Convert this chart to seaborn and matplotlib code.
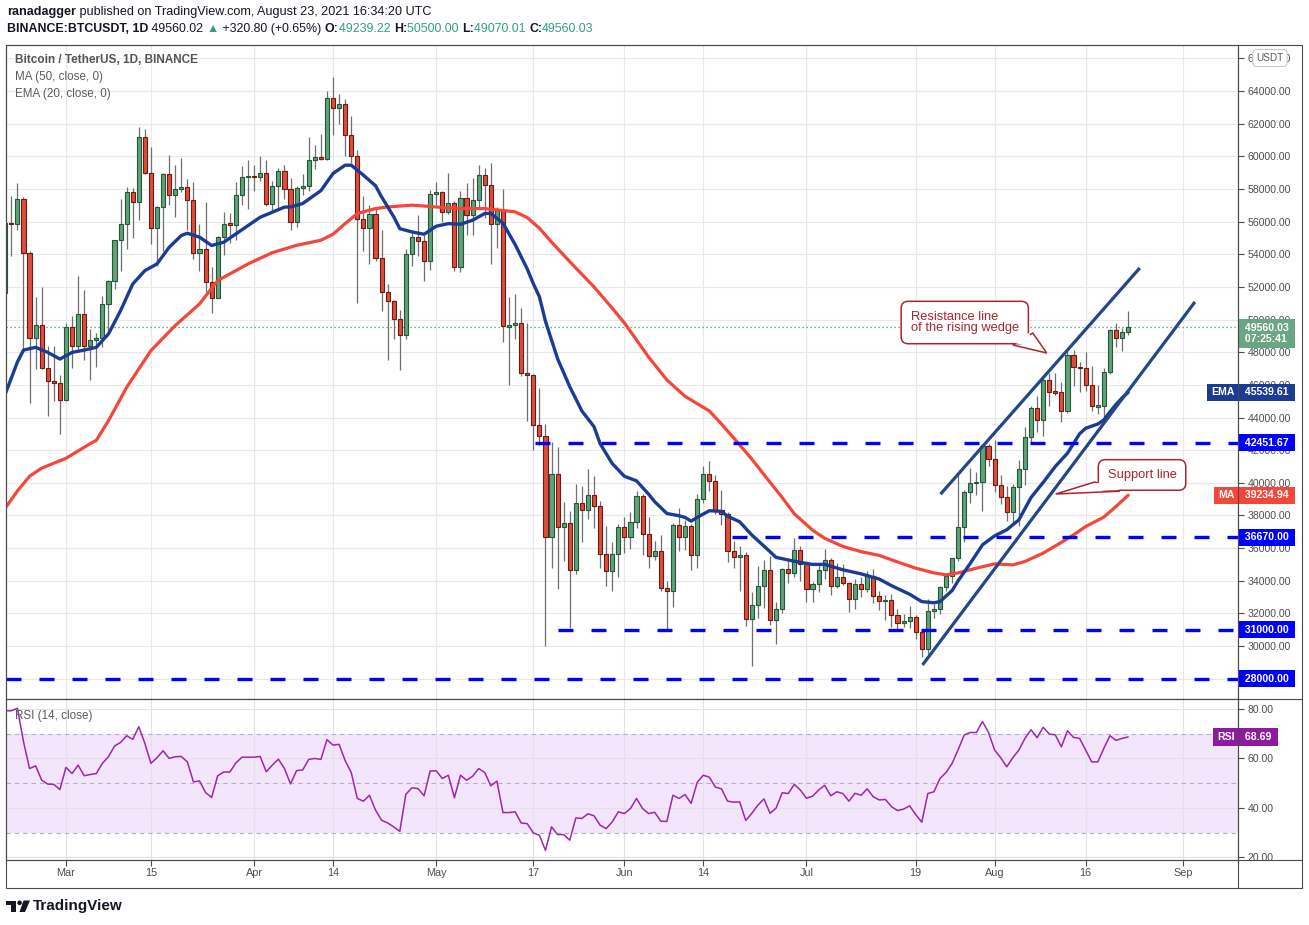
import numpy as np
import pandas as pd
import matplotlib
matplotlib.use("Agg")
import matplotlib.pyplot as plt
import matplotlib.dates as mdates
import matplotlib.transforms as mtransforms
from matplotlib.patches import Rectangle, Circle, Polygon
from matplotlib.lines import Line2D
import seaborn as sns

W, H = 1309, 925

# ---- daily BTCUSDT candles, Feb 19 .. Aug 23 2021 (open = previous close) ----
dates = pd.date_range("2021-02-19", "2021-08-23", freq="D")
first_open = 51600

close_feb = [55900, 55850, 57400, 54050, 48900, 49650, 47050, 46250, 46100, 45100]
high_feb = [56400, 57600, 58350, 57500, 54200, 51400, 52000, 48400, 48400, 46600]
low_feb = [50900, 53900, 55500, 48000, 44900, 47000, 47000, 44100, 45000, 43000]

close_mar = [49550, 48400, 50350, 48370, 48750, 48880, 50970, 52380, 54850, 55850,
             57800, 57220, 61180, 58970, 55600, 56900, 58900, 57640, 58030, 58100,
             57350, 54080, 54340, 52300, 51300, 55070, 55880, 55820, 57630, 58760, 58800]
high_mar = [49800, 50200, 52650, 51800, 49450, 49200, 51450, 52400, 54900, 57400,
            58150, 58050, 61800, 61700, 60600, 56950, 58950, 60100, 59450, 59900,
            58600, 58400, 55850, 57200, 53250, 55100, 56600, 56550, 58400, 59400, 59800]
low_mar = [45000, 47050, 48100, 47500, 46300, 47100, 48300, 49300, 51850, 53000,
           54300, 55000, 56100, 58900, 54600, 53300, 54200, 57000, 56300, 57800,
           55500, 53700, 53000, 51700, 50400, 51300, 53950, 54700, 54900, 57000, 56800]

close_apr = [58740, 58950, 57060, 58200, 59130, 57990, 56000, 58090, 58160, 59770,
             59990, 59860, 63580, 62960, 63180, 61330, 60000, 56150, 55640, 56470,
             53800, 51700, 51150, 50050, 49050, 54020, 55040, 54840, 53560, 57700]
high_apr = [59500, 60000, 59800, 58500, 59300, 59500, 58650, 58200, 58900, 61200,
            60700, 61400, 64000, 64850, 63800, 63500, 62500, 60400, 57600, 57000,
            56800, 55500, 52150, 51200, 50600, 54350, 55500, 56400, 55200, 57950]
low_apr = [57900, 58500, 56950, 56500, 56800, 57400, 55500, 55700, 57650, 57900,
           59200, 59800, 59800, 61300, 62000, 60000, 59600, 51000, 54200, 53400,
           53600, 50500, 47500, 48800, 46900, 48800, 53300, 53900, 52350, 53050]

close_may = [57800, 56580, 57170, 53200, 57440, 56400, 57340, 58840, 58240, 55830,
             56700, 49580, 49650, 49820, 46720, 46580, 43540, 42860, 36650, 40540,
             37280, 37520, 34660, 38780, 38320, 39240, 38560, 35660, 34600, 35650, 37280]
high_may = [58450, 57900, 59000, 57250, 57900, 58350, 58650, 59500, 59300, 59600,
            56900, 58000, 51400, 51550, 50700, 49800, 46650, 45800, 43600, 42500,
            42200, 38850, 38300, 39900, 39800, 40850, 40400, 38900, 37350, 36400, 37500]
low_may = [57000, 56000, 56450, 53000, 52900, 55200, 55200, 56900, 56250, 53400,
           54400, 48600, 46000, 48800, 46550, 43800, 42000, 42300, 30000, 34800,
           33500, 35200, 31100, 34400, 36400, 37800, 37200, 34800, 33650, 33400, 34200]

close_jun = [36690, 37570, 39210, 36850, 35520, 35800, 33560, 33400, 37390, 36690,
             37330, 35550, 39020, 40530, 40140, 38350, 38090, 35820, 35480, 35600,
             31680, 32500, 33680, 34660, 31590, 32280, 34700, 34500, 35910, 35040]
high_jun = [37900, 38200, 39480, 39300, 37900, 36450, 36800, 34000, 37550, 38450,
            37700, 37450, 39300, 41000, 41350, 40500, 39550, 38200, 36450, 36100,
            35750, 33300, 34900, 35300, 35500, 32700, 34750, 35300, 36600, 36100]
low_jun = [35700, 35950, 37200, 35600, 34800, 35250, 33400, 31000, 32400, 35800,
           35900, 34650, 34800, 38750, 39500, 38100, 37400, 35150, 34800, 33350,
           31250, 28800, 31700, 32350, 31300, 30150, 32000, 33850, 34200, 34000]

close_jul = [33510, 33800, 34660, 35300, 33690, 34220, 33860, 32880, 33810, 33510,
             34260, 33090, 32730, 32820, 31880, 31380, 31520, 31780, 30840, 29790,
             32140, 32290, 33640, 34260, 35380, 37270, 39460, 40010, 40030, 42230, 41460]
high_jul = [35050, 33950, 34950, 35950, 35400, 35100, 35000, 33900, 34100, 34250,
            34600, 34700, 33350, 33100, 33200, 32250, 31950, 32450, 31900, 31050,
            32850, 32600, 33650, 34500, 35400, 40550, 39550, 40900, 40650, 42300, 42400]
low_jul = [32700, 32700, 33300, 34100, 33150, 33550, 33750, 32100, 32250, 33000,
           33300, 32650, 32200, 31600, 31150, 31000, 31150, 31100, 30400, 29300,
           29500, 31700, 31950, 33400, 33850, 35200, 36400, 38750, 39250, 38300, 41000]

close_aug = [39850, 39150, 38210, 39720, 40870, 42830, 44610, 43830, 46290, 45590,
             45550, 44420, 47830, 47100, 47050, 45990, 44690, 44700, 46760, 49340,
             48870, 49240, 49560]
high_aug = [42600, 40450, 39800, 39950, 41400, 43400, 44700, 45300, 46450, 46700,
            46750, 46200, 48100, 48150, 47400, 48000, 47150, 46000, 47050, 49400,
            49800, 49500, 50500]
low_aug = [39450, 38700, 37650, 37500, 37350, 39850, 42500, 43100, 42850, 44700,
           45350, 43750, 44250, 45950, 45550, 45650, 44400, 44200, 43950, 46650,
           48300, 48100, 49070]

# ---- RSI(14) daily ----
rsi_feb = [79.3, 79.3, 80.3, 66.8, 55.9, 57.0, 51.2, 49.6, 49.5, 47.4]
rsi_mar = [56.4, 53.9, 57.3, 53.0, 53.5, 53.9, 58.0, 60.7, 65.0, 66.5,
           69.2, 67.7, 72.8, 66.1, 58.0, 60.3, 63.1, 60.0, 60.7, 60.8,
           58.6, 50.5, 50.9, 46.2, 44.2, 53.0, 54.5, 54.5, 58.2, 60.5, 60.5]
rsi_apr = [60.5, 60.8, 54.6, 57.3, 59.7, 55.9, 49.7, 55.1, 55.3, 59.6,
           60.0, 59.6, 67.6, 65.4, 65.7, 59.1, 54.3, 43.8, 42.7, 45.1,
           39.1, 35.0, 33.9, 32.3, 30.5, 45.5, 48.1, 47.8, 44.9, 54.9]
rsi_may = [55.0, 51.9, 53.2, 44.1, 53.2, 51.2, 52.8, 55.9, 54.3, 48.9,
           50.8, 38.1, 38.1, 38.4, 33.9, 33.6, 29.9, 28.9, 22.8, 32.3,
           29.2, 29.2, 26.9, 35.9, 35.7, 37.6, 36.8, 33.0, 31.6, 34.3, 38.4]
rsi_jun = [37.7, 39.7, 43.8, 39.7, 37.7, 38.2, 34.6, 34.5, 45.1, 43.8,
           45.4, 41.8, 50.3, 53.2, 52.4, 48.4, 47.7, 42.7, 42.3, 42.4,
           34.9, 37.8, 41.1, 43.6, 37.8, 39.9, 46.1, 45.8, 49.5, 47.2]
rsi_jul = [43.9, 44.7, 47.2, 49.1, 44.9, 46.5, 45.8, 42.7, 45.9, 45.1,
           47.7, 44.5, 43.2, 43.4, 40.5, 38.9, 39.5, 40.8, 37.3, 34.2,
           45.8, 46.5, 51.9, 54.3, 58.0, 63.6, 69.5, 70.5, 70.5, 74.9, 70.5]
rsi_aug = [63.4, 60.3, 56.6, 60.3, 63.4, 68.1, 71.6, 68.4, 72.6, 69.9,
           69.5, 64.7, 71.2, 68.5, 68.1, 63.4, 58.6, 58.6, 64.1, 69.2,
           67.3, 68.1, 68.69]

# ---- EMA(20) and MA(50) ----
ema_days = ["02-19", "02-21", "02-22", "02-24", "02-26", "02-28", "03-02", "03-04", "03-06",
            "03-08", "03-10", "03-12", "03-14", "03-16", "03-18", "03-20", "03-21", "03-23",
            "03-25", "03-27", "03-29", "03-31", "04-02", "04-04", "04-06", "04-07", "04-09",
            "04-12", "04-14", "04-16", "04-17", "04-19", "04-21", "04-22", "04-24", "04-25",
            "04-27", "04-29", "05-01", "05-03", "05-05", "05-07", "05-09", "05-10", "05-12",
            "05-14", "05-16", "05-17", "05-18", "05-19", "05-21", "05-23", "05-25", "05-27",
            "05-28", "05-30", "06-01", "06-03", "06-05", "06-06", "06-08", "06-10", "06-11",
            "06-12", "06-13", "06-15", "06-17", "06-18", "06-20", "06-22", "06-24", "06-26",
            "06-28", "06-30", "07-02", "07-04", "07-07", "07-10", "07-13", "07-15", "07-18",
            "07-20", "07-22", "07-23", "07-25", "07-26", "07-28", "07-30", "08-01", "08-03",
            "08-05", "08-07", "08-09", "08-11", "08-13", "08-15", "08-16", "08-18", "08-19",
            "08-20", "08-21", "08-22", "08-23"]
ema_vals = [45440, 47400, 48130, 48300, 47990, 47580, 47990, 48130, 48300,
            49120, 50550, 52180, 53000, 53410, 54430, 55150, 55290, 55050,
            54540, 54740, 55250, 55760, 56270, 56580, 56890, 56900, 57110,
            57900, 58950, 59460, 59460, 58850, 58200, 57520, 56300, 55570,
            55370, 55230, 55720, 55880, 55840, 56090, 56500, 56510, 55900,
            54600, 53100, 52200, 51400, 49900, 47600, 45890, 44400, 43440,
            42400, 41180, 40400, 40120, 39300, 38840, 38120, 37980, 37880,
            37650, 37880, 38290, 38250, 37950, 37610, 36800, 36120, 35430,
            35270, 35120, 35000, 35000, 34670, 34420, 34100, 33700, 33170,
            32720, 32650, 32720, 33400, 34000, 35070, 36200, 36750, 37120,
            37730, 39100, 40020, 41000, 41810, 43000, 43340, 43600, 43850,
            44350, 44800, 45200, 45540]

ma_days = ["02-19", "02-21", "02-23", "02-25", "02-27", "03-01", "03-03", "03-05", "03-06",
           "03-08", "03-11", "03-15", "03-19", "03-23", "03-26", "03-31", "04-04", "04-08",
           "04-12", "04-14", "04-16", "04-18", "04-21", "04-23", "04-27", "05-01", "05-05",
           "05-09", "05-14", "05-16", "05-18", "05-20", "05-23", "05-27", "05-30", "06-01",
           "06-05", "06-08", "06-11", "06-15", "06-17", "06-19", "06-22", "06-24", "06-27",
           "06-29", "07-02", "07-04", "07-07", "07-10", "07-13", "07-16", "07-19", "07-22",
           "07-24", "07-26", "07-29", "08-01", "08-04", "08-06", "08-09", "08-12", "08-14",
           "08-16", "08-19", "08-21", "08-23"]
ma_vals = [38450, 39500, 40400, 40900, 41200, 41500, 41950, 42400, 42600,
           43800, 45850, 48100, 49630, 50960, 52390, 53410, 54100, 54550,
           54860, 55230, 55880, 56500, 56800, 56900, 57010, 56900, 56800,
           56800, 56600, 56250, 55600, 54750, 53550, 52000, 50700, 49800,
           47700, 46300, 45300, 44400, 43600, 42750, 41450, 40500, 39100,
           38100, 37100, 36600, 36100, 35780, 35550, 35150, 34770, 34480,
           34360, 34480, 34770, 35030, 34970, 35180, 35690, 36350, 36810,
           37320, 37900, 38550, 39235]

# ---- drawings ----
level_prices = [42451.67, 36670.00, 31000.00, 28000.00]
level_starts = ["2021-05-17 06:00", "2021-06-18 16:00", "2021-05-21 00:00", "2021-02-15"]
wedge_low_dates = ["2021-07-20 03:00", "2021-09-03 00:00"]
wedge_low_prices = [28840, 51080]
wedge_up_dates = ["2021-07-23 02:00", "2021-08-24 22:00"]
wedge_up_prices = [39300, 53160]

res_text = "Resistance line\nof the rising wedge"
res_box = ("2021-07-27 02:00", 49820)
res_tail_dates = ["2021-08-04 00:00", "2021-08-09 14:00", "2021-08-07 07:00"]
res_tail_prices = [48443, 47952, 49177]
sup_text = "Support line"
sup_box = ("2021-08-25 07:00", 40480)
sup_tail_dates = ["2021-08-17 12:00", "2021-08-11 02:00", "2021-08-21 15:00"]
sup_tail_prices = [40048, 39313, 39485]

tick_dates = ["2021-03-01", "2021-03-15", "2021-04-01", "2021-04-14", "2021-05-01",
              "2021-05-17", "2021-06-01", "2021-06-14", "2021-07-01", "2021-07-19",
              "2021-08-01", "2021-08-16", "2021-09-01"]
tick_labels = ["Mar", "15", "Apr", "14", "May", "17", "Jun", "14", "Jul", "19",
               "Aug", "16", "Sep"]

last_price = 49560.03

# colours
UP, UP_EDGE = "#62a07c", "#1f5a35"
DOWN, DOWN_EDGE = "#dc4d3c", "#6e1a12"
WICK = "#6f6f6f"
EMA_C, MA_C = "#1b3c94", "#f4463a"
LEVEL_C = "#0000ff"
WEDGE_C = "#24468a"
RSI_C = "#9c27b0"
FRAME = "#4a4a4a"
TXT = "#4d4d4d"
TEAL = "#2f9e84"
CALLOUT = "#a8262e"

sns.set_theme(style="white")
plt.rcParams["font.family"] = ["Liberation Sans", "DejaVu Sans"]


def fx(x):
    return x / W


def fy(y):
    return 1 - y / H


fig = plt.figure(figsize=(W / 100, H / 100), dpi=100)
fig.patch.set_facecolor("white")
pix = mtransforms.Affine2D().scale(1 / W, -1 / H).translate(0, 1) + fig.transFigure

ax = fig.add_axes([fx(6), fy(699), (1238 - 6) / W, (699 - 45) / H])
ax_rsi = fig.add_axes([fx(6), fy(860), (1238 - 6) / W, (860 - 699) / H], sharex=ax)

closes = close_feb + close_mar + close_apr + close_may + close_jun + close_jul + close_aug
highs = high_feb + high_mar + high_apr + high_may + high_jun + high_jul + high_aug
lows = low_feb + low_mar + low_apr + low_may + low_jun + low_jul + low_aug
rsi = rsi_feb + rsi_mar + rsi_apr + rsi_may + rsi_jun + rsi_jul + rsi_aug

x = mdates.date2num(dates)
c = np.array(closes, dtype=float)
o = np.array([first_open] + closes[:-1], dtype=float)
up = c >= o
mid = (o + c) / 2
body_h = np.maximum(np.abs(c - o), 90)
body_lo = mid - body_h / 2

x_mar1 = mdates.date2num(pd.Timestamp("2021-03-01"))
xmin, xmax = x_mar1 - 9.88, x_mar1 + 193.1

# candles
ax.vlines(x, lows, highs, color=WICK, lw=0.9, zorder=3)
ax.bar(x[up], body_h[up], bottom=body_lo[up], width=0.68, color=UP,
       edgecolor=UP_EDGE, linewidth=0.8, zorder=4)
ax.bar(x[~up], body_h[~up], bottom=body_lo[~up], width=0.68, color=DOWN,
       edgecolor=DOWN_EDGE, linewidth=0.8, zorder=4)

# moving averages
ema_x = mdates.date2num(pd.to_datetime(["2021-" + d for d in ema_days]))
ma_x = mdates.date2num(pd.to_datetime(["2021-" + d for d in ma_days]))
sns.lineplot(x=ma_x, y=ma_vals, ax=ax, color=MA_C, lw=2.3, zorder=5, legend=False)
sns.lineplot(x=ema_x, y=ema_vals, ax=ax, color=EMA_C, lw=2.4, zorder=6, legend=False)

# last price dotted line
ax.axhline(last_price, color="#3d9b6c", lw=0.9, ls=(0, (1, 2.2)), zorder=2)

# horizontal levels
for p, s in zip(level_prices, level_starts):
    x0 = max(mdates.date2num(pd.Timestamp(s)), xmin)
    ax.hlines(p, x0, xmax, colors=LEVEL_C, lw=2.4, linestyles=[(0, (4.5, 5.4))], zorder=8)

# rising wedge
ax.plot(mdates.date2num(pd.to_datetime(wedge_low_dates)), wedge_low_prices,
        color=WEDGE_C, lw=2.3, zorder=9, solid_capstyle="butt")
ax.plot(mdates.date2num(pd.to_datetime(wedge_up_dates)), wedge_up_prices,
        color=WEDGE_C, lw=2.3, zorder=9, solid_capstyle="butt")

ax.set_xlim(xmin, xmax)
ax.set_ylim(26753, 66823)
ax.set_ylabel("")
ax.set_xlabel("")
ax.yaxis.tick_right()
yt = list(range(28000, 66001, 2000))
ax.set_yticks(yt)
ax.set_yticklabels(["" if v == 28000 else f"{v}.00" for v in yt])
ax.tick_params(axis="y", direction="out", length=4, width=0.8, color=FRAME,
               labelsize=7.6, labelcolor=TXT, pad=3, right=True, left=False)
ax.tick_params(axis="x", bottom=False, labelbottom=False)
ax.set_axisbelow(True)
ax.grid(True, color="#e8e8e8", lw=0.8)


# speech-bubble callouts
def callout(text, box, tail_dates, tail_prices, pad):
    bx = mdates.date2num(pd.Timestamp(box[0]))
    ax.text(bx, box[1], text, ha="center", va="center", multialignment="left",
            fontsize=9.3, color=CALLOUT, linespacing=0.92, zorder=12,
            bbox=dict(boxstyle=f"round,pad={pad},rounding_size=0.55", fc="white",
                      ec=CALLOUT, lw=1.1))
    tx = mdates.date2num(pd.to_datetime(tail_dates))
    pts = ax.transData.transform(np.column_stack([tx, tail_prices]))
    b0, tip, b1 = pts
    ax.add_patch(Polygon(ax.transData.inverted().transform(pts), closed=True,
                         fc="white", ec=CALLOUT, lw=1.1, zorder=11, joinstyle="miter"))
    # white patch hiding the bubble border where the tail joins it
    base = (b1 - b0) / np.linalg.norm(b1 - b0)
    mid_b = (b0 + b1) / 2
    nrm = (tip - mid_b) / np.linalg.norm(tip - mid_b)
    c0 = b0 + base * 2.4 - nrm * 2.6
    c1 = b1 - base * 2.4 - nrm * 2.6
    ct = tip + (mid_b - tip) * 0.3
    cover = ax.transData.inverted().transform(np.array([c0, ct, c1]))
    ax.add_patch(Polygon(cover, closed=True, fc="white", ec="none", zorder=13))


callout(res_text, res_box, res_tail_dates, res_tail_prices, 0.74)
callout(sup_text, sup_box, sup_tail_dates, sup_tail_prices, 0.72)

# RSI pane
ax_rsi.axhspan(30, 70, color="#f3e6fc", zorder=0, lw=0)
for lv in (30, 50, 70):
    ax_rsi.axhline(lv, color="#b9adc0", lw=0.8, ls=(0, (4, 3.5)), zorder=1)
sns.lineplot(x=x, y=rsi, ax=ax_rsi, color=RSI_C, lw=1.1, zorder=5, legend=False)
ax_rsi.set_ylim(18.9, 84.05)
ax_rsi.set_ylabel("")
ax_rsi.yaxis.tick_right()
ax_rsi.set_yticks([20, 40, 60, 80])
ax_rsi.set_yticklabels(["20.00", "40.00", "60.00", "80.00"])
ax_rsi.tick_params(axis="y", direction="out", length=4, width=0.8, color=FRAME,
                   labelsize=7.6, labelcolor=TXT, pad=3, right=True, left=False)
ax_rsi.set_xticks(mdates.date2num(pd.to_datetime(tick_dates)))
ax_rsi.set_xticklabels(tick_labels)
ax_rsi.tick_params(axis="x", direction="out", length=4, width=0.8, color=FRAME,
                   labelsize=7.8, labelcolor=TXT, pad=2, bottom=True)
ax_rsi.set_axisbelow(True)
ax_rsi.grid(True, color="#e3e0e6", lw=0.8)
ax_rsi.set_xlim(xmin, xmax)

for a in (ax, ax_rsi):
    for sp in a.spines.values():
        sp.set_color(FRAME)
        sp.set_linewidth(0.8)
        sp.set_visible(True)


# price-scale tags
def value_tag(axis, val, text, fc, y_shift=0.0, size=7.6):
    tr = mtransforms.blended_transform_factory(axis.transAxes, axis.transData)
    axis.text(1.0032, val + y_shift, text, transform=tr, ha="left", va="center",
              fontsize=size, fontweight="bold", color="white", zorder=30,
              clip_on=False, linespacing=1.15,
              bbox=dict(boxstyle="square,pad=0.34", fc=fc, ec="none"))


def name_tag(axis, val, text, fc, size=7.6):
    tr = mtransforms.blended_transform_factory(axis.transAxes, axis.transData)
    axis.text(0.9972, val, text, transform=tr, ha="right", va="center",
              fontsize=size, fontweight="bold", color="white", zorder=30,
              clip_on=False, bbox=dict(boxstyle="square,pad=0.34", fc=fc, ec="none"))


value_tag(ax, last_price, " 49560.03 \n 07:25:41", "#6aa584", y_shift=-420)
value_tag(ax, 45539.61, " 45539.61 ", EMA_C)
name_tag(ax, 45539.61, "EMA", EMA_C)
value_tag(ax, 42451.67, " 42451.67 ", LEVEL_C)
value_tag(ax, 39234.94, " 39234.94 ", MA_C)
name_tag(ax, 39234.94, "MA", MA_C)
value_tag(ax, 36670.00, " 36670.00 ", LEVEL_C)
value_tag(ax, 31000.00, " 31000.00 ", LEVEL_C)
value_tag(ax, 28000.00, " 28000.00 ", LEVEL_C)
value_tag(ax_rsi, 68.69, " 68.69 ", "#8e1a9e")
name_tag(ax_rsi, 68.69, "RSI", "#8e1a9e")

fig.text(fx(1270), fy(58), "USDT", fontsize=7.2, color="#5a5a5a", ha="center", va="center",
         zorder=40, bbox=dict(boxstyle="round,pad=0.35,rounding_size=0.4", fc="white",
                              ec="#c9c9d6", lw=0.8))

# frame lines outside the panes
fig.add_artist(Rectangle((6, 45), 1296, 843, transform=pix, fill=False, ec=FRAME, lw=0.8))
for (x0, y0, x1, y1) in [(1238, 45, 1238, 888), (6, 699, 1302, 699), (6, 860, 1302, 860)]:
    fig.add_artist(Line2D([x0, x1], [y0, y1], transform=pix, color=FRAME, lw=0.8))

# pane legends
fig.text(fx(15), fy(60), "Bitcoin / TetherUS, 1D, BINANCE", fontsize=8.5,
         fontweight="bold", color="#555555", va="center")
fig.text(fx(15), fy(77), "MA (50, close, 0)", fontsize=8.4, color="#5c5c5c", va="center")
fig.text(fx(15), fy(94), "EMA (20, close, 0)", fontsize=8.4, color="#5c5c5c", va="center")
fig.text(fx(15), fy(716), "RSI (14, close)", fontsize=8.4, color="#5c5c5c", va="center")

# header
renderer = fig.canvas.get_renderer()


def write_run(x_px, y_px, pieces, size):
    for text, weight, color in pieces:
        t = fig.text(fx(x_px), fy(y_px), text, fontsize=size, fontweight=weight,
                     color=color, va="center", ha="left")
        x_px += t.get_window_extent(renderer).width


write_run(7, 12, [("ranadagger", "bold", "#131722"),
                  (" published on TradingView.com, August 23, 2021 16:34:20 UTC",
                   "normal", "#131722")], 9.1)
write_run(7, 29, [("BINANCE:BTCUSDT, 1D", "bold", "#131722"),
                  (" 49560.02 ", "normal", "#131722"),
                  ("\u25B2", "normal", TEAL),
                  (" +320.80 (+0.65%) ", "normal", "#131722"),
                  ("O:", "bold", "#131722"), ("49239.22 ", "normal", TEAL),
                  ("H:", "bold", "#131722"), ("50500.00 ", "normal", TEAL),
                  ("L:", "bold", "#131722"), ("49070.01 ", "normal", TEAL),
                  ("C:", "bold", "#131722"), ("49560.03", "normal", TEAL)], 8.9)

# footer logo
LOGO = "#131722"
fig.add_artist(Rectangle((6, 900.5), 10, 4.2, transform=pix, fc=LOGO, ec="none"))
fig.add_artist(Rectangle((11, 900.5), 5, 11.5, transform=pix, fc=LOGO, ec="none"))
fig.add_artist(Circle((19.6, 902.8), 2.3, transform=pix, fc=LOGO, ec="none"))
fig.add_artist(Polygon([(23.5, 900.5), (30, 900.5), (25, 912), (19.5, 912)],
                       closed=True, transform=pix, fc=LOGO, ec="none"))
fig.text(fx(33), fy(906), "TradingView", fontsize=11, fontweight="bold", color=LOGO,
         va="center")

fig.savefig("out.png", dpi=100, facecolor="white")
